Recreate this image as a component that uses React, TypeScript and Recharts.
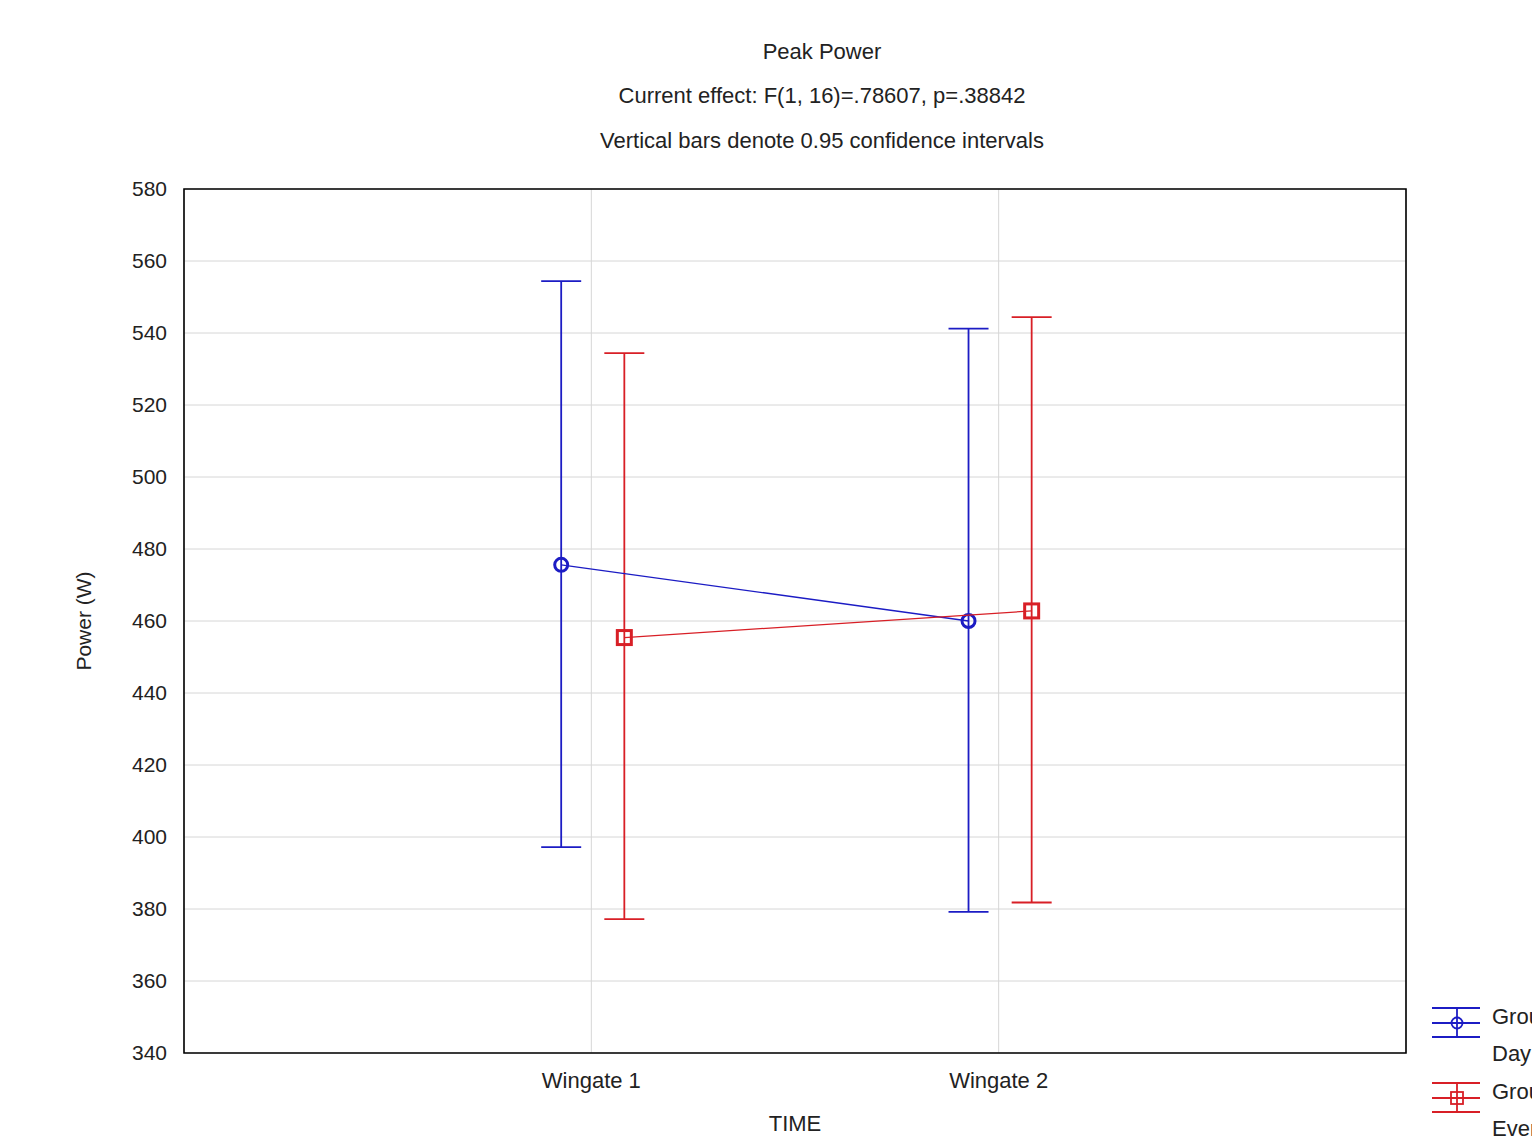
import React from "react";
import {
  ComposedChart,
  Scatter,
  ErrorBar,
  XAxis,
  YAxis,
  CartesianGrid,
  ReferenceArea,
  Label,
} from "recharts";

const categories = ["Wingate 1", "Wingate 2"];
const dayMean = [475.6, 460.0];
const dayLow = [397.2, 379.2];
const dayHigh = [554.4, 541.2];
const eveMean = [455.4, 462.8];
const eveLow = [377.2, 381.8];
const eveHigh = [534.4, 544.4];
const yTicks = [340, 360, 380, 400, 420, 440, 460, 480, 500, 520, 540, 560, 580];
const titleLines = [
  "Peak Power",
  "Current effect: F(1, 16)=.78607, p=.38842",
  "Vertical bars denote 0.95 confidence intervals",
];
const legendLines = [
  ["Group", "Day"],
  ["Group", "Evening"],
];

const BLUE = "#1c1cc4";
const RED = "#d81f26";
const FONT = "'Liberation Sans', Arial, sans-serif";
const TEXT = "#222";

const DAY_OFFSET = -0.074;
const EVE_OFFSET = 0.081;

const dayData = categories.map((c, i) => ({
  x: i + 1 + DAY_OFFSET,
  y: dayMean[i],
  err: [dayMean[i] - dayLow[i], dayHigh[i] - dayMean[i]],
}));
const eveData = categories.map((c, i) => ({
  x: i + 1 + EVE_OFFSET,
  y: eveMean[i],
  err: [eveMean[i] - eveLow[i], eveHigh[i] - eveMean[i]],
}));

const CircleShape = (props: any) => (
  <circle cx={props.cx} cy={props.cy} r={6.5} fill="none" stroke={BLUE} strokeWidth={3} />
);
const SquareShape = (props: any) => (
  <rect x={props.cx - 7} y={props.cy - 7} width={14} height={14} fill="none" stroke={RED} strokeWidth={3} />
);

export default function App() {
  return (
    <div
      style={{
        position: "absolute",
        left: 0,
        top: 0,
        width: 1532,
        height: 1142,
        overflow: "hidden",
        background: "#fff",
        fontFamily: FONT,
      }}
    >
      <ComposedChart
        width={1532}
        height={1142}
        margin={{ top: 189, right: 126, bottom: 11, left: 84 }}
      >
        <CartesianGrid stroke="#d6d6d6" strokeWidth={1} />
        <XAxis
          type="number"
          dataKey="x"
          domain={[0, 3]}
          ticks={[1, 2]}
          tickFormatter={(v: number) => categories[v - 1] ?? ""}
          height={78}
          axisLine={false}
          tickLine={false}
          tickSize={6}
          tickMargin={13}
          tick={{ fill: TEXT, fontSize: 22, fontFamily: FONT }}
          allowDataOverflow
        >
          <Label
            value="TIME"
            position="insideBottom"
            offset={0}
            style={{ fill: TEXT, fontSize: 22, fontFamily: FONT }}
          />
        </XAxis>
        <YAxis
          type="number"
          dataKey="y"
          domain={[340, 580]}
          ticks={yTicks}
          width={100}
          axisLine={false}
          tickLine={false}
          tickSize={6}
          tickMargin={11}
          tick={{ fill: TEXT, fontSize: 21, fontFamily: FONT }}
          allowDataOverflow
        >
          <Label
            value="Power (W)"
            angle={-90}
            position="insideLeft"
            offset={0}
            style={{ fill: TEXT, fontSize: 21, fontFamily: FONT, textAnchor: "middle" }}
          />
        </YAxis>
        <ReferenceArea x1={0} x2={3} y1={340} y2={580} fill="none" stroke="#000" strokeWidth={1.6} strokeOpacity={1} />
        <Scatter
          data={dayData}
          isAnimationActive={false}
          line={{ stroke: BLUE, strokeWidth: 1.3 }}
          shape={CircleShape}
        >
          <ErrorBar dataKey="err" direction="y" width={20} stroke={BLUE} strokeWidth={1.8} />
        </Scatter>
        <Scatter
          data={eveData}
          isAnimationActive={false}
          line={{ stroke: RED, strokeWidth: 1.3 }}
          shape={SquareShape}
        >
          <ErrorBar dataKey="err" direction="y" width={20} stroke={RED} strokeWidth={1.8} />
        </Scatter>
      </ComposedChart>
      <svg
        width={1532}
        height={1142}
        style={{ position: "absolute", left: 0, top: 0, pointerEvents: "none" }}
      >
        {titleLines.map((t, i) => (
          <text
            key={t}
            x={822}
            y={51 + i * 44.5}
            textAnchor="middle"
            dominantBaseline="central"
            fill={TEXT}
            fontSize={22}
            fontFamily={FONT}
          >
            {t}
          </text>
        ))}
        {legendLines.map((lines, i) => {
          const color = i === 0 ? BLUE : RED;
          const top = 1008 + i * 75;
          const mid = top + 15;
          const bot = top + 29;
          return (
            <g key={i}>
              <line x1={1432} x2={1480} y1={top} y2={top} stroke={color} strokeWidth={1.8} />
              <line x1={1432} x2={1480} y1={mid} y2={mid} stroke={color} strokeWidth={1.8} />
              <line x1={1432} x2={1480} y1={bot} y2={bot} stroke={color} strokeWidth={1.8} />
              <line x1={1457} x2={1457} y1={top} y2={bot} stroke={color} strokeWidth={1.8} />
              {i === 0 ? (
                <circle cx={1457} cy={mid} r={5.5} fill="none" stroke={color} strokeWidth={1.8} />
              ) : (
                <rect x={1451} y={mid - 6} width={12} height={12} fill="none" stroke={color} strokeWidth={1.8} />
              )}
              <text x={1492} y={top + 8} dominantBaseline="central" fill={TEXT} fontSize={22} fontFamily={FONT}>
                {lines[0]}
              </text>
              <text x={1492} y={top + 45} dominantBaseline="central" fill={TEXT} fontSize={22} fontFamily={FONT}>
                {lines[1]}
              </text>
            </g>
          );
        })}
      </svg>
    </div>
  );
}
